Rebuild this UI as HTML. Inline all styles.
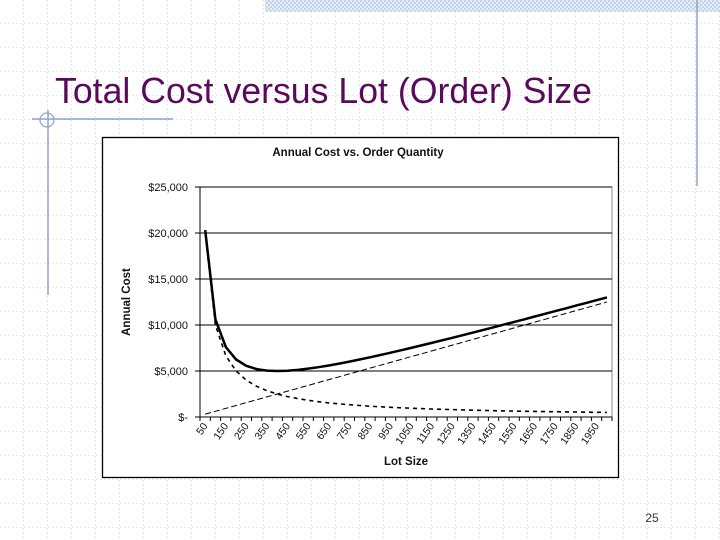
<!DOCTYPE html>
<html><head><meta charset="utf-8"><style>
html,body{margin:0;padding:0}
body{width:720px;height:540px;position:relative;overflow:hidden;background:#fff;font-family:"Liberation Sans",sans-serif}
.grid{position:absolute;left:0;top:0;width:720px;height:540px}
</style></head><body>
<svg class="grid" width="720" height="540">
<defs>
<pattern id="g" width="24" height="24" patternUnits="userSpaceOnUse">
<path d="M24 0V24M0 24H24" stroke="#cfcfcf" stroke-width="1" stroke-dasharray="2,2" fill="none"/>
</pattern>
<pattern id="h" width="4" height="4" patternUnits="userSpaceOnUse">
<rect width="4" height="4" fill="#e4ecf6"/><rect width="2" height="2" fill="#c7d4e8"/><rect x="2" y="2" width="2" height="2" fill="#c7d4e8"/>
</pattern>
</defs>
<rect width="720" height="540" fill="url(#g)"/>
<rect x="265" y="0" width="455" height="12" fill="url(#h)"/>
<line x1="697" y1="0" x2="697" y2="186" stroke="#8fa3cc" stroke-width="1.5"/>
<line x1="32" y1="119" x2="173" y2="119" stroke="#8fa3cc" stroke-width="1.5"/>
<line x1="48" y1="110" x2="48" y2="295" stroke="#8fa3cc" stroke-width="1.5"/>
<circle cx="47" cy="120" r="7" fill="none" stroke="#8fa3cc" stroke-width="1.2"/>
<text x="55" y="103" font-size="36" fill="#5a0a5a" font-family="Liberation Sans, sans-serif" textLength="537" lengthAdjust="spacingAndGlyphs">Total Cost versus Lot (Order) Size</text>
<text x="652" y="522" font-size="12" fill="#333" text-anchor="middle">25</text>
</svg>
<svg id="chart" style="position:absolute;left:0;top:0" width="720" height="540"></svg>
<script>
const categories=[50,100,150,200,250,300,350,400,450,500,550,600,650,700,750,800,850,900,950,1000,1050,1100,1150,1200,1250,1300,1350,1400,1450,1500,1550,1600,1650,1700,1750,1800,1850,1900,1950,2000];
const orderingCost=[20000,10000,6667,5000,4000,3333,2857,2500,2222,2000,1818,1667,1538,1429,1333,1250,1176,1111,1053,1000,952,909,870,833,800,769,741,714,690,667,645,625,606,588,571,556,541,526,513,500];
const holdingCost=[313,625,938,1250,1563,1875,2188,2500,2813,3125,3438,3750,4063,4375,4688,5000,5313,5625,5938,6250,6563,6875,7188,7500,7813,8125,8438,8750,9063,9375,9688,10000,10313,10625,10938,11250,11563,11875,12188,12500];
const totalCost=[20313,10625,7604,6250,5563,5208,5045,5000,5035,5125,5256,5417,5601,5804,6021,6250,6489,6736,6991,7250,7515,7784,8058,8333,8613,8894,9179,9464,9753,10042,10333,10625,10919,11213,11509,11806,12104,12401,12701,13000];
const yTicks=[0,5000,10000,15000,20000,25000];
const yLabels=["$-","$5,000","$10,000","$15,000","$20,000","$25,000"];
const NS="http://www.w3.org/2000/svg";
const svg=document.getElementById('chart');
const L=200,R=612,T=187,B=417,YMAX=25000;
const bw=(R-L)/categories.length;
function x(i){return L+bw*(i+0.5);}
function y(v){return B-(v/YMAX)*(B-T);}
function mk(t,a,p){const e=document.createElementNS(NS,t);for(const k in a)e.setAttribute(k,a[k]);(p||svg).appendChild(e);return e;}
const box=mk('rect',{x:102.5,y:137.5,width:516,height:340,fill:'#fff',stroke:'#000','stroke-width':1.3});


const pa=mk('rect',{x:L,y:T,width:R-L,height:B-T,fill:'#fff',stroke:'#888','stroke-width':1});


const ct=mk('text',{x:358,y:156,'font-size':11.5,'font-weight':'bold','text-anchor':'middle',fill:'#111'});
ct.textContent='Annual Cost vs. Order Quantity';


yTicks.forEach((v,i)=>{
 if(v>0){const g=mk('line',{x1:L,x2:R,y1:y(v),y2:y(v),stroke:'#000','stroke-width':1});
 
 }
 mk('line',{x1:L-5,x2:L,y1:y(v),y2:y(v),stroke:'#000'});
 const t=mk('text',{x:L-12,y:y(v)+4,'font-size':11,'text-anchor':'end',fill:'#111'});
 t.textContent=yLabels[i];
 
 
});
mk('line',{x1:L,x2:L,y1:T,y2:B,stroke:'#000','stroke-width':1});
mk('line',{x1:L,x2:R,y1:B,y2:B,stroke:'#000','stroke-width':1});
for(let i=0;i<=categories.length;i++){mk('line',{x1:L+bw*i,x2:L+bw*i,y1:B,y2:B+4,stroke:'#000'});}
categories.forEach((c,i)=>{
 if(i%2===0){const t=mk('text',{x:x(i)+3,y:B+9,'font-size':10.5,'text-anchor':'end',fill:'#111',transform:`rotate(-55 ${x(i)+3} ${B+9})`});
 t.textContent=c;
 
 }
});
const xt=mk('text',{x:406,y:465,'font-size':11.5,'font-weight':'bold','text-anchor':'middle',fill:'#111'});
xt.textContent='Lot Size';


const yt=mk('text',{x:130,y:302,'font-size':11.5,'font-weight':'bold','text-anchor':'middle',fill:'#111',transform:'rotate(-90 130 302)'});
yt.textContent='Annual Cost';


function line(arr,attrs,name){const d=arr.map((v,i)=>(i?'L':'M')+x(i).toFixed(1)+' '+y(v).toFixed(1)).join(' ');
 const p=mk('path',Object.assign({d:d,fill:'none',stroke:'#000'},attrs));
 
 }
line(holdingCost,{'stroke-width':1,'stroke-dasharray':'6,3'},'holding-cost-line');
line(orderingCost,{'stroke-width':1.6,'stroke-dasharray':'4,4'},'ordering-cost-line');
line(totalCost,{'stroke-width':2.5},'total-cost-line');
</script>
</body></html>
